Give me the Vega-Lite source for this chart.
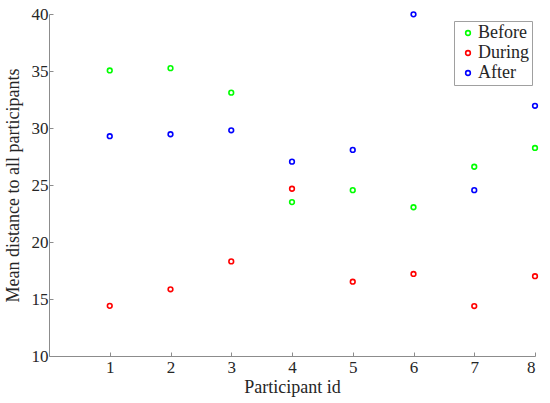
{
  "$schema": "https://vega.github.io/schema/vega-lite/v6.json",
  "autosize": {"type": "none"},
  "padding": {"left": 49, "top": 14, "right": 15, "bottom": 47},
  "width": 486,
  "height": 342,
  "background": "white",
  "config": {
    "view": {"stroke": null},
    "font": "Liberation Serif",
    "axis": {
      "grid": false,
      "domainColor": "#8c8c8c",
      "tickColor": "#8c8c8c",
      "tickSize": -4,
      "labelColor": "#262626",
      "titleColor": "#262626",
      "labelFont": "Liberation Serif",
      "titleFont": "Liberation Serif",
      "labelFontSize": 17,
      "titleFontSize": 18,
      "titleFontWeight": "normal"
    }
  },
  "data": {
    "values": [
      {"participant": 1, "phase": "Before", "distance": 35.05},
      {"participant": 2, "phase": "Before", "distance": 35.25},
      {"participant": 3, "phase": "Before", "distance": 33.1},
      {"participant": 4, "phase": "Before", "distance": 23.5},
      {"participant": 5, "phase": "Before", "distance": 24.55},
      {"participant": 6, "phase": "Before", "distance": 23.05},
      {"participant": 7, "phase": "Before", "distance": 26.6},
      {"participant": 8, "phase": "Before", "distance": 28.25},
      {"participant": 1, "phase": "During", "distance": 14.4},
      {"participant": 2, "phase": "During", "distance": 15.85},
      {"participant": 3, "phase": "During", "distance": 18.3},
      {"participant": 4, "phase": "During", "distance": 24.67},
      {"participant": 5, "phase": "During", "distance": 16.52},
      {"participant": 6, "phase": "During", "distance": 17.2},
      {"participant": 7, "phase": "During", "distance": 14.38},
      {"participant": 8, "phase": "During", "distance": 17.0},
      {"participant": 1, "phase": "After", "distance": 29.28},
      {"participant": 2, "phase": "After", "distance": 29.45},
      {"participant": 3, "phase": "After", "distance": 29.8},
      {"participant": 4, "phase": "After", "distance": 27.05},
      {"participant": 5, "phase": "After", "distance": 28.08},
      {"participant": 6, "phase": "After", "distance": 39.97},
      {"participant": 7, "phase": "After", "distance": 24.55},
      {"participant": 8, "phase": "After", "distance": 31.95}
    ]
  },
  "mark": {"type": "point", "shape": "circle", "filled": false, "size": 22, "strokeWidth": 1.6, "opacity": 1},
  "encoding": {
    "x": {
      "field": "participant",
      "type": "quantitative",
      "scale": {"domain": [0, 8], "nice": false},
      "axis": {"values": [1, 2, 3, 4, 5, 6, 7, 8], "title": "Participant id", "labelPadding": 7, "titlePadding": 3}
    },
    "y": {
      "field": "distance",
      "type": "quantitative",
      "scale": {"domain": [10, 40], "nice": false, "zero": false},
      "axis": {"values": [10, 15, 20, 25, 30, 35, 40], "title": "Mean distance to all participants", "labelPadding": 5, "titlePadding": 9}
    },
    "color": {
      "field": "phase",
      "type": "nominal",
      "scale": {"domain": ["Before", "During", "After"], "range": ["#00ff00", "#ff0000", "#0000ff"]},
      "legend": {
        "title": null,
        "orient": "none",
        "legendX": 405,
        "legendY": 7,
        "fillColor": "white",
        "strokeColor": "#a0a0a0",
        "padding": 3,
        "labelFont": "Liberation Serif",
        "labelFontSize": 18,
        "labelColor": "#262626",
        "symbolType": "circle",
        "symbolFillColor": "transparent",
        "symbolStrokeWidth": 1.6,
        "symbolSize": 22,
        "symbolOffset": 2,
        "rowPadding": 2,
        "labelOffset": 1
      }
    }
  }
}
